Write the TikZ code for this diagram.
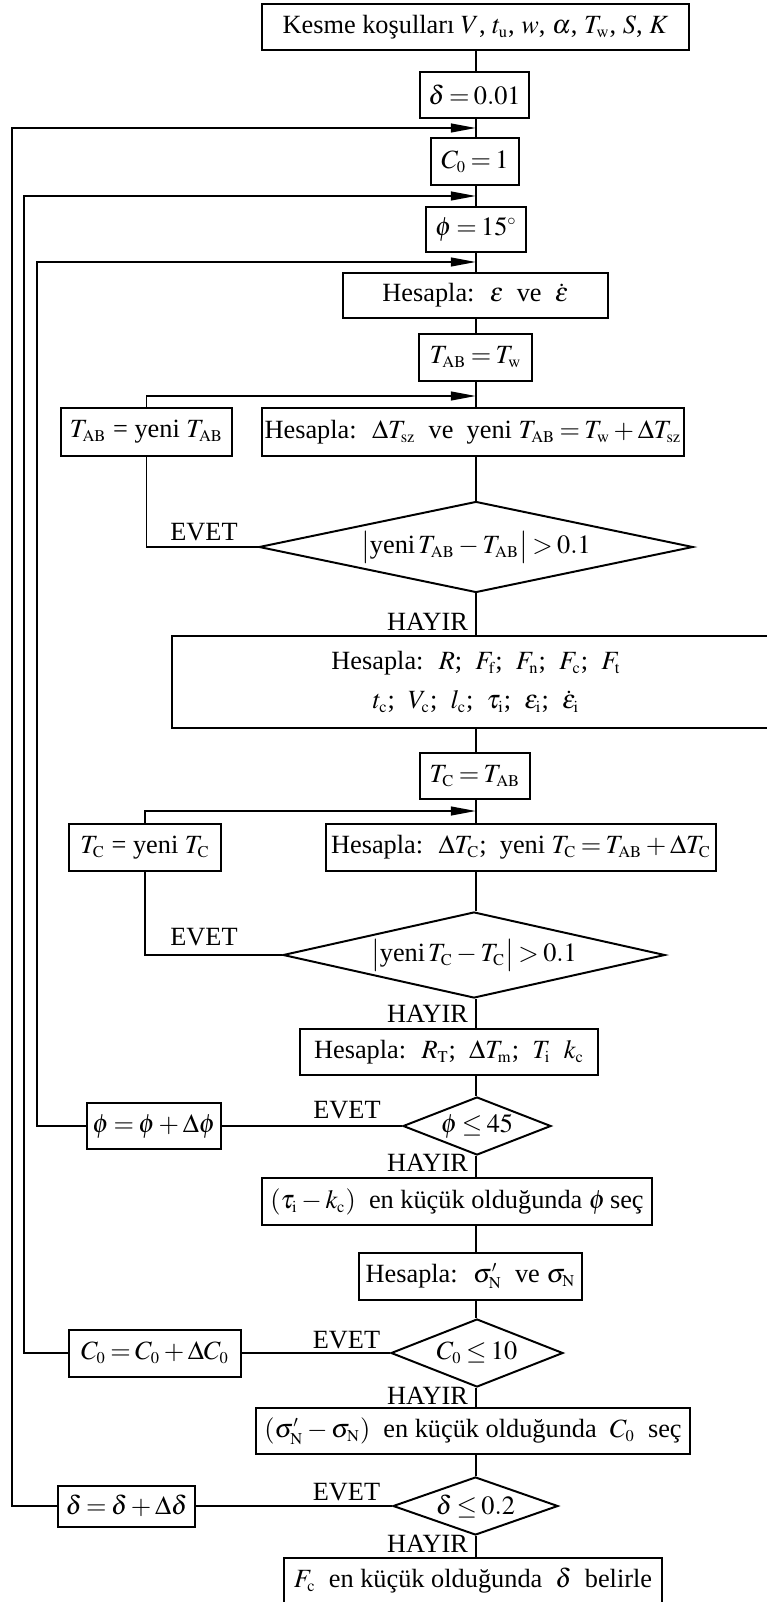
\documentclass[tikz,border=0pt]{standalone}
\usepackage{mathptmx}
\usepackage[no-math]{fontspec}
\setmainfont{Liberation Serif}
\DeclareMathSizes{12}{12}{7.5}{5}
\usetikzlibrary{shapes.geometric, arrows.meta}

\begin{document}
\medmuskip=2.5mu
\thickmuskip=3mu
\begin{tikzpicture}[x=0.456pt, y=-0.456pt]

% Parameters
\def\px{0.456pt}
\def\mainx{476}

% Define styles
\tikzstyle{line}=[line width=0.9pt]
\tikzstyle{box}=[draw, line width=0.9pt, inner sep=0pt, minimum height=46*\px, font=\fontsize{12}{18}\selectfont]
\tikzstyle{decision}=[draw, diamond, line width=0.9pt, inner sep=0pt, font=\fontsize{12}{18}\selectfont]
\tikzstyle{tag}=[inner sep=0pt, font=\fontsize{12}{18}\selectfont]
\tikzstyle{arr}=[line, -{Triangle[length=11.5pt, width=4pt]}]

\useasboundingbox (0,0) rectangle (766,1602);

% Main column
\node[box, minimum width=427*\px] (top) at (475.5,27) {Kesme koşulları $V$, $t_\mathrm{u}$, $w$, $\alpha$, $T_\mathrm{w}$, $S$, $K$\hspace{20\px}};
\node[box, minimum width=109*\px] (d0) at (474.5,95) {$\delta = 0.01$};
\node[box, minimum width=88*\px, minimum height=47*\px] (c0) at (475,161.5) {$C_0 = 1$};
\node[box, minimum width=100*\px, minimum height=45*\px] (p0) at (476,229.5) {$\phi = 15^\circ$};
\node[box, minimum width=265*\px, minimum height=45*\px] (eps) at (475.5,295.5) {Hesapla: \ $\varepsilon$ \ ve \ $\dot{\varepsilon}$};
\node[box, minimum width=113*\px, minimum height=47*\px] (tab0) at (475.5,357.5) {$T_\mathrm{AB} = T_\mathrm{w}$};
\node[box, minimum width=422*\px, minimum height=48*\px] (dtsz) at (473,432) {Hesapla: \ $\Delta T_\mathrm{sz}$ \ ve \ yeni $T_\mathrm{AB} = T_\mathrm{w} + \Delta T_\mathrm{sz}$};
\node[decision, minimum width=434*\px, minimum height=91*\px, aspect=4.77] (q1) at (476,547) {$\bigl|\mbox{yeni}\,T_\mathrm{AB} - T_\mathrm{AB}\bigr| > 0.1$};
\node[box, minimum width=608*\px, minimum height=92*\px, align=center] (big) at (476,682) {Hesapla: \ $R$; \ $F_\mathrm{f}$; \ $F_\mathrm{n}$; \ $F_\mathrm{c}$; \ $F_\mathrm{t}$\\ $t_\mathrm{c}$; \ $V_\mathrm{c}$; \ $l_\mathrm{c}$; \ $\tau_\mathrm{i}$; \ $\varepsilon_\mathrm{i}$; \ $\dot{\varepsilon}_\mathrm{i}$};
\node[box, minimum width=110*\px] (tc0) at (475,776) {$T_\mathrm{C} = T_\mathrm{AB}$};
\node[box, minimum width=390*\px, minimum height=47*\px] (dtc) at (521,847.5) {Hesapla: \ $\Delta T_\mathrm{C}$; \ yeni $T_\mathrm{C} = T_\mathrm{AB} + \Delta T_\mathrm{C}$};
\node[decision, minimum width=382*\px, minimum height=86*\px, aspect=4.44] (q2) at (474,955) {$\bigl|\mbox{yeni}\,T_\mathrm{C} - T_\mathrm{C}\bigr| > 0.1$};
\node[box, minimum width=298*\px] (rt) at (449,1052) {Hesapla: \ $R_\mathrm{T}$; \ $\Delta T_\mathrm{m}$; \ $T_\mathrm{i}$ \ $k_\mathrm{c}$};
\node[decision, minimum width=148*\px, minimum height=58*\px, aspect=2.55] (q3) at (477,1126) {$\phi \le 45$};
\node[box, minimum width=390*\px, minimum height=47*\px] (psel) at (457,1201.5) {$(\tau_\mathrm{i} - k_\mathrm{c})$ \ en küçük olduğunda $\phi$\,seç};
\node[box, minimum width=223*\px, minimum height=47*\px] (sig) at (470.5,1276.5) {Hesapla: \ $\sigma'_\mathrm{N}$ \ ve $\sigma_\mathrm{N}$};
\node[decision, minimum width=172*\px, minimum height=68*\px, aspect=2.53] (q4) at (477,1353) {$C_0 \le 10$};
\node[box, minimum width=434*\px] (csel) at (473,1431) {$(\sigma'_\mathrm{N} - \sigma_\mathrm{N})$ \ en küçük olduğunda \ $C_0$ \ seç};
\node[decision, minimum width=165*\px, minimum height=58*\px, aspect=2.84] (q5) at (475.5,1506) {$\delta \le 0.2$};
\node[box, minimum width=378*\px] (fin) at (473,1581) {$F_\mathrm{c}$ \ en küçük olduğunda \ $\delta$ \ belirle};

% Side boxes
\node[box, minimum width=171*\px, minimum height=48*\px] (tabnew) at (146.5,432) {$T_\mathrm{AB}$ = yeni $T_\mathrm{AB}$};
\node[box, minimum width=152*\px, minimum height=47*\px] (tcnew) at (145,847.5) {$T_\mathrm{C}$ = yeni $T_\mathrm{C}$};
\node[box, minimum width=134*\px] (pinc) at (154,1126) {$\phi = \phi + \Delta\phi$};
\node[box, minimum width=172*\px, minimum height=47*\px] (cinc) at (155,1353) {$C_0 = C_0 + \Delta C_0$};
\node[box, minimum width=137*\px, minimum height=41*\px] (dinc) at (126.5,1506) {$\delta = \delta + \Delta\delta$};

% Junctions on the main line and loop rails
\coordinate (mx) at (\mainx,0);
\coordinate (j1) at (\mainx,128);
\coordinate (j2) at (\mainx,196);
\coordinate (j3) at (\mainx,262);
\coordinate (k1) at (\mainx,396);
\coordinate (k2) at (\mainx,811);
\coordinate (r1) at (12,0);
\coordinate (r2) at (24,0);
\coordinate (r3) at (37,0);

% Main flow
\foreach \a/\b in {top/d0, d0/c0, c0/p0, p0/eps, eps/tab0, tab0/dtsz, dtsz/q1, q1/big, big/tc0, tc0/dtc, dtc/q2, q2/rt, rt/q3, q3/psel, psel/sig, sig/q4, q4/csel, csel/q5, q5/fin} {
  \draw[line] (mx |- \a.south) -- (mx |- \b.north);
}

% Outer loops
\foreach \q/\b/\r/\j in {q5/dinc/r1/j1, q4/cinc/r2/j2, q3/pinc/r3/j3} {
  \draw[line] (\q.west) -- (\b.east);
  \draw[arr] (\b.west) -- (\b.west -| \r) |- (\j);
}

% Inner loops
\draw[line] (q1.west) -| (tabnew.south);
\draw[arr] (tabnew.north) |- (k1);
\draw[line] (q2.west) -| (tcnew.south);
\draw[arr] (tcnew.north) |- (k2);

% Labels
\node[tag] (yes1) at (204,532) {EVET};
\node[tag] (yes2) at (204,937) {EVET};
\node[tag] (yes3) at (347,1110) {EVET};
\node[tag] (yes4) at (346.5,1340) {EVET};
\node[tag] (yes5) at (346.5,1492) {EVET};
\node[tag] (no1) at (427.5,622) {HAYIR};
\node[tag] (no2) at (427.5,1014) {HAYIR};
\node[tag] (no3) at (427.5,1162.5) {HAYIR};
\node[tag] (no4) at (427.5,1395.5) {HAYIR};
\node[tag] (no5) at (427.5,1544) {HAYIR};

\end{tikzpicture}
\end{document}
